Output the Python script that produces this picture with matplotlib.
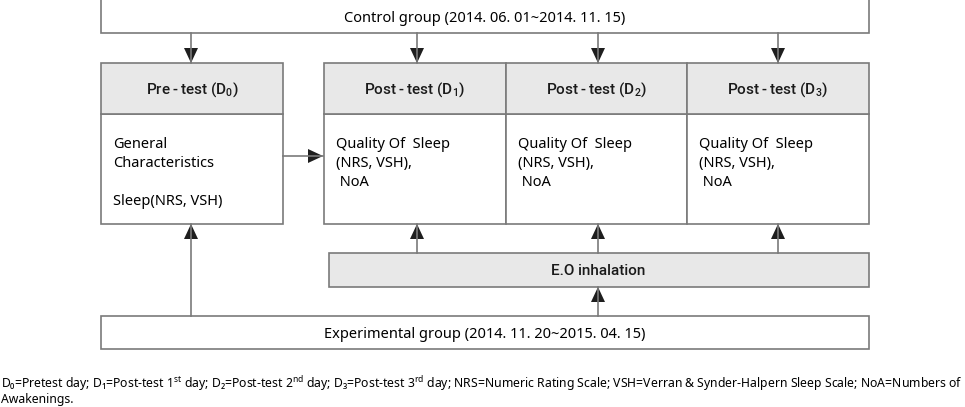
import matplotlib.pyplot as plt
from matplotlib.patches import Rectangle, FancyArrowPatch

# texts of the diagram
control_label = "Control group (2014. 06. 01~2014. 11. 15)"
experimental_label = "Experimental group (2014. 11. 20~2015. 04. 15)"
intervention_label = "E.O inhalation"
stage_titles = ["Pre\u2009-\u2009test (D$_{\\mathbf{0}}$)", "Post\u2009-\u2009test (D$_{\\mathbf{1}}$)",
                "Post\u2009-\u2009test (D$_{\\mathbf{2}}$)", "Post\u2009-\u2009test (D$_{\\mathbf{3}}$)"]
pre_lines = ["General", "Characteristics", "", "Sleep(NRS, VSH)"]
post_lines = ["Quality Of  Sleep", "(NRS, VSH),", " NoA"]
footnote = ["D₀=Pretest day; D₁=Post-test 1$^{\\mathrm{st}}$ day; D₂=Post-test 2$^{\\mathrm{nd}}$ day; "
            "D₃=Post-test 3$^{\\mathrm{rd}}$ day; NRS=Numeric Rating Scale; "
            "VSH=Verran & Synder-Halpern Sleep Scale; NoA=Numbers of",
            "Awakenings."]

plt.rcParams['font.family'] = ['Noto Sans', 'DejaVu Sans']
plt.rcParams['mathtext.fontset'] = 'custom'
plt.rcParams['mathtext.rm'] = 'Noto Sans'
plt.rcParams['mathtext.it'] = 'Noto Sans'
plt.rcParams['mathtext.bf'] = 'Roboto:medium'

fig = plt.figure(figsize=(9.65, 4.07), dpi=100)
ax = fig.add_axes([0, 0, 1, 1])
ax.set_xlim(0, 965)
ax.set_ylim(407, 0)
ax.axis('off')

edge = '#7a7a7a'
grey = '#e8e8e8'
fs = 10.5
head_font = dict(family=['Roboto', 'DejaVu Sans'], fontweight='medium', fontsize=11,
                 color='#1a1a1a')


def box(x0, y0, x1, y1, fc='white'):
    ax.add_patch(Rectangle((x0, y0), x1 - x0, y1 - y0, fc=fc, ec=edge, lw=1.2))


def arrow(p0, p1):
    ax.plot([p0[0], p1[0]], [p0[1], p1[1]], color=edge, lw=1.2)
    ax.add_patch(FancyArrowPatch(p0, p1, arrowstyle='-|>,head_length=0.6,head_width=0.28',
                                 mutation_scale=18, color='#1e1e1e', lw=0,
                                 shrinkA=0, shrinkB=0))


# control group box
box(101, -1, 869, 33)
ax.text(485, 18, control_label, ha='center', va='center', fontsize=fs)

# stage boxes
cols = [(101, 283), (324, 506), (506, 687), (687, 869)]
for (x0, x1), title in zip(cols, stage_titles):
    box(x0, 114, x1, 224)
    box(x0, 63, x1, 114, fc=grey)
    ax.text((x0 + x1) / 2, 90, title, ha='center', va='center', **head_font)

for i, line in enumerate(pre_lines):
    ax.text(113, 145 + i * 18.7, line, ha='left', va='center', fontsize=fs)
for x0, x1 in cols[1:]:
    for i, line in enumerate(post_lines):
        ax.text(x0 + 12, 145 + i * 18.5, line, ha='left', va='center', fontsize=fs)

# arrows from control
for x in [191, 417, 598, 778]:
    arrow((x, 33), (x, 63))

# arrow pre -> post
arrow((283, 156), (323, 156))

# intervention box
box(329, 253, 869, 287, fc=grey)
ax.text(598, 271, intervention_label, ha='center', va='center', **head_font)
for x in [417, 598, 778]:
    arrow((x, 253), (x, 224))

# experimental group box
box(101, 316, 869, 349)
ax.text(485, 334, experimental_label, ha='center', va='center', fontsize=fs)
arrow((191, 316), (191, 224))
arrow((598, 316), (598, 287))

# footnote
ax.text(1, 384, footnote[0], ha='left', va='center', fontsize=8.8)
ax.text(1, 400, footnote[1], ha='left', va='center', fontsize=8.8)

fig.savefig('out.png', dpi=100)
